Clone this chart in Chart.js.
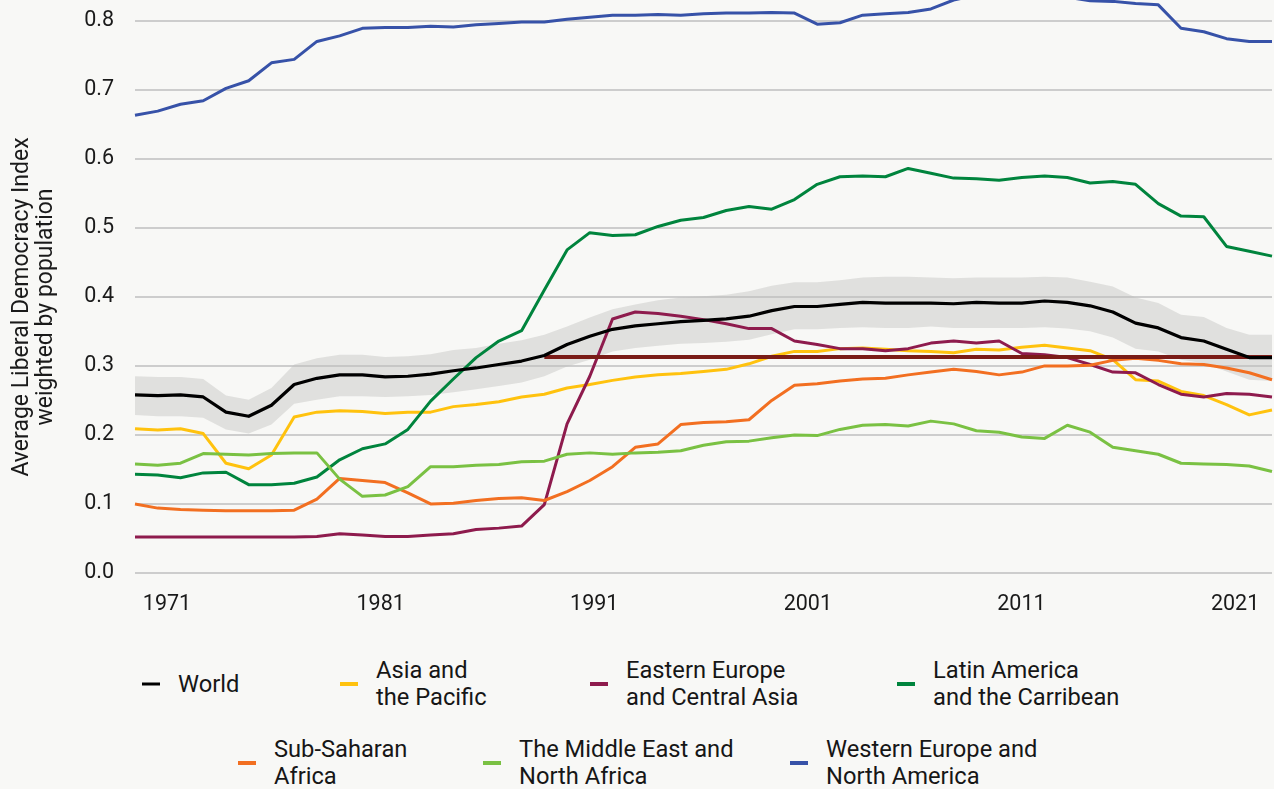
<!DOCTYPE html>
<html>
<head>
<meta charset="utf-8">
<script src="https://cdn.jsdelivr.net/npm/chart.js@4.4.0/dist/chart.umd.min.js"></script>
<style>
  html, body { margin: 0; padding: 0; background: #f8f8f6; }
  body { width: 1274px; height: 789px; position: relative; overflow: hidden; font-family: Roboto, sans-serif; }
  #wrap { position: absolute; left: 0; top: 0; width: 1274px; height: 630px; }
  .item { position: absolute; display: flex; align-items: center; transform: translateY(-50%);
          font-size: 23.7px; line-height: 27px; color: #161616; white-space: pre-line; }
  .item .dash { width: 18px; height: 3.5px; margin-right: 18px; flex: none; }
</style>
</head>
<body>
<div id="wrap"><canvas id="chart" width="1274" height="630"></canvas></div>
<div id="legend"></div>
<script>
// years of the data points (51 points)
const years = [];
for (let y = 1972; y <= 2022; y++) years.push(y);
const tickYears = [1971, 1981, 1991, 2001, 2011, 2021];

const world = [0.258,0.257,0.258,0.255,0.233,0.227,0.243,0.273,0.282,0.287,
  0.287,0.284,0.285,0.288,0.293,0.297,0.302,0.307,0.315,0.331,
  0.343,0.353,0.358,0.361,0.364,0.366,0.368,0.372,0.380,0.386,
  0.386,0.389,0.392,0.391,0.391,0.391,0.390,0.392,0.391,0.391,
  0.394,0.392,0.387,0.378,0.362,0.355,0.341,0.336,0.324,0.312,0.312];
const worldHigh = [0.285,0.284,0.284,0.281,0.257,0.251,0.268,0.302,0.311,0.316,
  0.316,0.313,0.314,0.317,0.323,0.326,0.332,0.337,0.345,0.357,
  0.370,0.382,0.389,0.395,0.399,0.401,0.403,0.408,0.416,0.421,
  0.421,0.424,0.428,0.429,0.429,0.428,0.427,0.428,0.428,0.428,
  0.429,0.428,0.422,0.415,0.399,0.391,0.374,0.371,0.355,0.345,0.345];
const worldLow = [0.229,0.227,0.227,0.225,0.208,0.202,0.215,0.245,0.251,0.256,
  0.256,0.255,0.256,0.258,0.262,0.266,0.271,0.276,0.285,0.299,
  0.309,0.321,0.326,0.329,0.332,0.333,0.335,0.338,0.346,0.353,
  0.353,0.355,0.356,0.355,0.355,0.357,0.355,0.355,0.355,0.355,
  0.356,0.354,0.350,0.341,0.325,0.321,0.309,0.304,0.292,0.280,0.278];
const asiaPacific = [0.209,0.207,0.209,0.202,0.159,0.151,0.171,0.226,0.233,0.235,
  0.234,0.231,0.233,0.233,0.241,0.244,0.248,0.255,0.259,0.268,
  0.273,0.279,0.284,0.287,0.289,0.292,0.295,0.303,0.314,0.321,
  0.321,0.325,0.326,0.324,0.322,0.321,0.319,0.324,0.323,0.327,
  0.330,0.326,0.322,0.309,0.280,0.278,0.263,0.257,0.244,0.229,0.236];
const easternEurope = [0.052,0.052,0.052,0.052,0.052,0.052,0.052,0.052,0.053,0.057,
  0.055,0.053,0.053,0.055,0.057,0.063,0.065,0.068,0.099,0.216,
  0.285,0.368,0.378,0.376,0.372,0.367,0.361,0.354,0.354,0.336,
  0.331,0.325,0.325,0.322,0.325,0.333,0.336,0.333,0.336,0.318,
  0.316,0.312,0.302,0.291,0.290,0.273,0.259,0.255,0.260,0.259,0.255];
const latinAmerica = [0.143,0.142,0.138,0.145,0.146,0.128,0.128,0.130,0.139,0.164,
  0.180,0.187,0.208,0.249,0.281,0.312,0.336,0.351,0.410,0.468,
  0.493,0.489,0.490,0.502,0.511,0.515,0.525,0.531,0.527,0.541,
  0.563,0.574,0.575,0.574,0.586,0.579,0.572,0.571,0.569,0.573,
  0.575,0.573,0.565,0.567,0.563,0.535,0.517,0.516,0.473,0.466,0.459];
const subSaharan = [0.100,0.094,0.092,0.091,0.090,0.090,0.090,0.091,0.107,0.137,
  0.134,0.131,0.116,0.100,0.101,0.105,0.108,0.109,0.105,0.118,
  0.134,0.154,0.182,0.187,0.215,0.218,0.219,0.222,0.250,0.272,
  0.274,0.278,0.281,0.282,0.287,0.291,0.295,0.292,0.287,0.291,
  0.300,0.300,0.301,0.308,0.311,0.308,0.303,0.302,0.297,0.290,0.280];
const middleEast = [0.158,0.156,0.159,0.173,0.172,0.171,0.173,0.174,0.174,0.136,
  0.111,0.113,0.125,0.154,0.154,0.156,0.157,0.161,0.162,0.172,
  0.174,0.172,0.174,0.175,0.177,0.185,0.190,0.191,0.196,0.200,
  0.199,0.208,0.214,0.215,0.213,0.220,0.216,0.206,0.204,0.197,
  0.195,0.214,0.204,0.182,0.177,0.172,0.159,0.158,0.157,0.155,0.147];
const westernEurope = [0.663,0.669,0.679,0.684,0.702,0.713,0.739,0.744,0.770,0.778,
  0.789,0.790,0.790,0.792,0.791,0.794,0.796,0.798,0.798,0.802,
  0.805,0.808,0.808,0.809,0.808,0.810,0.811,0.811,0.812,0.811,
  0.795,0.797,0.808,0.810,0.812,0.817,0.830,0.837,0.840,0.841,
  0.839,0.834,0.829,0.828,0.825,0.823,0.789,0.784,0.774,0.770,0.770];

// reference level line: today's world level, drawn from the year it was first reached
const refLevel = 0.313;
const refStart = 18;
const refLine = years.map((y, i) => i >= refStart ? refLevel : null);

const seriesNames = ['World', 'Asia and the Pacific', 'Eastern Europe and Central Asia',
  'Latin America and the Carribean', 'Sub-Saharan Africa',
  'The Middle East and North Africa', 'Western Europe and North America'];
const legendLabels = ['World', 'Asia and\nthe Pacific', 'Eastern Europe\nand Central Asia',
  'Latin America\nand the Carribean', 'Sub-Saharan\nAfrica',
  'The Middle East and\nNorth Africa', 'Western Europe and\nNorth America'];
const seriesData = [world, asiaPacific, easternEurope, latinAmerica, subSaharan, middleEast, westernEurope];
const seriesColors = ['#000000', '#ffc20e', '#8e1b4d', '#00843d', '#f26f21', '#7ac143', '#3752a8'];

const tickFont = { family: 'Roboto', size: 21.5 };
const textColor = '#1a1a1a';

// first dataset is drawn on top
const datasets = [];
datasets.push({ label: seriesNames[0], data: world, borderColor: seriesColors[0], borderWidth: 3.2 });
datasets.push({ label: 'ref', data: refLine, borderColor: '#7a1c17', borderWidth: 4 });
for (let i = seriesData.length - 1; i >= 1; i--) {
  datasets.push({ label: seriesNames[i], data: seriesData[i], borderColor: seriesColors[i], borderWidth: 3 });
}
datasets.push({ label: 'high', data: worldHigh, borderWidth: 0, borderColor: 'transparent',
  backgroundColor: 'rgba(190,190,188,0.42)', fill: '+1' });
datasets.push({ label: 'low', data: worldLow, borderWidth: 0, borderColor: 'transparent', fill: false });

const yTitle = {
  id: 'yTitle',
  afterDraw(chart) {
    const ctx = chart.ctx;
    ctx.save();
    ctx.translate(0, 307);
    ctx.rotate(-Math.PI / 2);
    ctx.font = '23px Roboto';
    ctx.fillStyle = textColor;
    ctx.textAlign = 'center';
    ctx.textBaseline = 'middle';
    ctx.fillText('Average Liberal Democracy Index', 0, 22);
    ctx.fillText('weighted by population', 0, 46);
    ctx.restore();
  }
};

new Chart(document.getElementById('chart'), {
  type: 'line',
  data: { labels: years, datasets: datasets },
  options: {
    responsive: false,
    animation: false,
    layout: { padding: { left: 0, right: 2, top: 0, bottom: 0 } },
    elements: { point: { radius: 0 }, line: { tension: 0, borderJoinStyle: 'round', borderCapStyle: 'butt' } },
    plugins: { legend: { display: false }, tooltip: { enabled: false } },
    scales: {
      x: { type: 'category', display: false },
      xl: {
        type: 'linear', position: 'bottom', min: 1969.5, max: 2022.73,
        grid: { display: false }, border: { display: false },
        afterBuildTicks: s => { s.ticks = tickYears.map(v => ({ value: v })); },
        afterFit: s => { s.height = 57; s.paddingLeft = 0; s.paddingRight = 0; },
        ticks: { font: tickFont, color: textColor, padding: 11, maxRotation: 0, autoSkip: false,
          callback: v => String(v) }
      },
      y: {
        min: 0, max: 0.83,
        grid: { color: '#cdcdcd', lineWidth: 2, drawTicks: false },
        border: { display: false },
        afterFit: s => { s.width = 135; s.paddingTop = 0; s.paddingBottom = 0; },
        ticks: { stepSize: 0.1, includeBounds: false, font: tickFont, color: textColor, padding: 21,
          callback: v => v.toFixed(1) }
      }
    }
  },
  plugins: [yTitle]
});

// legend laid out like the reference: two rows of items with wrapped labels
const legendPos = [[142, 684], [340, 684], [590, 684], [897, 684], [238, 763], [483, 763], [790, 763]];
const legend = document.getElementById('legend');
seriesNames.forEach((name, i) => {
  const item = document.createElement('div');
  item.className = 'item';
  item.style.left = legendPos[i][0] + 'px';
  item.style.top = legendPos[i][1] + 'px';
  const dash = document.createElement('span');
  dash.className = 'dash';
  dash.style.background = seriesColors[i];
  const txt = document.createElement('span');
  txt.textContent = legendLabels[i];
  item.appendChild(dash);
  item.appendChild(txt);
  legend.appendChild(item);
});
</script>
</body>
</html>
